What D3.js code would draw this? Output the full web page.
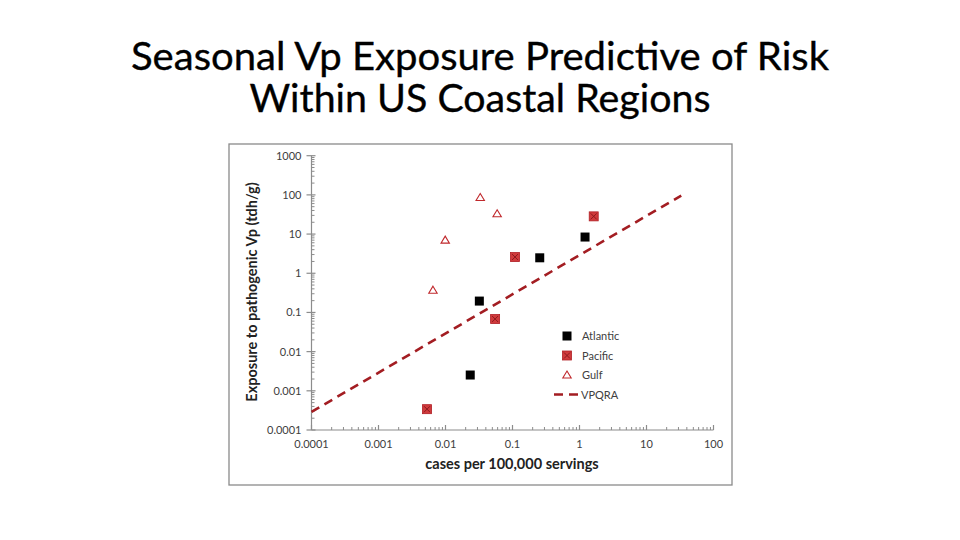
<!DOCTYPE html>
<html><head><meta charset="utf-8">
<script src="https://cdn.jsdelivr.net/npm/d3@7"></script>
<style>body{margin:0;background:#fff;} svg{display:block;}</style>
</head><body>
<svg id="c" width="960" height="540"></svg>
<script>
const titleLines = ["Seasonal Vp Exposure Predictive of Risk", "Within US Coastal Regions"];
const xLabel = "cases per 100,000 servings";
const yLabel = "Exposure to pathogenic Vp (tdh/g)";
const xTicks = [0.0001, 0.001, 0.01, 0.1, 1, 10, 100];
const xTickLabels = ["0.0001", "0.001", "0.01", "0.1", "1", "10", "100"];
const yTicks = [0.0001, 0.001, 0.01, 0.1, 1, 10, 100, 1000];
const yTickLabels = ["0.0001", "0.001", "0.01", "0.1", "1", "10", "100", "1000"];

const atlanticX = [0.0234, 0.032, 0.255, 1.21];
const atlanticY = [0.00253, 0.195, 2.48, 8.4];
const pacificX = [0.0053, 0.055, 0.109, 1.63];
const pacificY = [0.00034, 0.068, 2.59, 28.3];
const gulfX = [0.0065, 0.0099, 0.033, 0.059];
const gulfY = [0.37, 7.0, 86, 33];
const vpqraX = [0.0001, 33];
const vpqraY = [0.00029, 96];
const legendNames = ["Atlantic", "Pacific", "Gulf", "VPQRA"];

const svg = d3.select("#c");
const red = "#c0282c", darkRed = "#a31d22", axisCol = "#8c8c8c";

// title
svg.append("g").selectAll("text").data(titleLines).join("text")
  .attr("x", 480).attr("y", (d, i) => 70 + i * 42)
  .attr("text-anchor", "middle")
  .attr("font-family", "Lato, 'Open Sans', sans-serif")
  .attr("font-size", 39).attr("fill", "#000")
  .attr("stroke", "#000").attr("stroke-width", 0.35)
  .attr("textLength", (d, i) => i === 0 ? 698 : 461)
  .attr("lengthAdjust", "spacingAndGlyphs")
  .text(d => d);

// frame
svg.append("rect").attr("x", 229).attr("y", 144).attr("width", 503).attr("height", 341)
  .attr("fill", "#fff").attr("stroke", "#8a8a8a").attr("stroke-width", 1.3);

const x = d3.scaleLog().domain([0.0001, 100]).range([311.5, 713.5]);
const y = d3.scaleLog().domain([0.0001, 1000]).range([430, 155.7]);

const minorX = [], minorY = [];
for (let e = -4; e < 2; e++) for (let m = 2; m <= 9; m++) minorX.push(m * Math.pow(10, e));
for (let e = -4; e < 3; e++) for (let m = 2; m <= 9; m++) minorY.push(m * Math.pow(10, e));

const fontTick = "Lato, 'Open Sans', sans-serif";
// X axis
const gx = svg.append("g").attr("transform", "translate(0,430)");
gx.append("line").attr("x1", x.range()[0]).attr("x2", x.range()[1]).attr("stroke", axisCol).attr("stroke-width", 1.2);
gx.selectAll(".mn").data(minorX).join("line")
  .attr("x1", d => x(d)).attr("x2", d => x(d)).attr("y1", 0).attr("y2", -3)
  .attr("stroke", axisCol).attr("stroke-width", 1);
gx.selectAll(".mj").data(xTicks).join("line")
  .attr("x1", d => x(d)).attr("x2", d => x(d)).attr("y1", 0).attr("y2", -5)
  .attr("stroke", axisCol).attr("stroke-width", 1.2);
gx.selectAll("text").data(xTicks).join("text")
  .attr("x", d => x(d)).attr("y", 18).attr("text-anchor", "middle")
  .attr("font-family", fontTick).attr("font-size", 11).attr("fill", "#404040")
  .text((d, i) => xTickLabels[i]);

// Y axis
const gy = svg.append("g").attr("transform", "translate(311.5,0)");
gy.append("line").attr("y1", y.range()[0]).attr("y2", y.range()[1]).attr("stroke", axisCol).attr("stroke-width", 1.2);
gy.selectAll(".mn").data(minorY).join("line")
  .attr("y1", d => y(d)).attr("y2", d => y(d)).attr("x1", 0).attr("x2", 3)
  .attr("stroke", axisCol).attr("stroke-width", 1);
gy.selectAll(".mj").data(yTicks).join("line")
  .attr("y1", d => y(d)).attr("y2", d => y(d)).attr("x1", -5).attr("x2", 4)
  .attr("stroke", axisCol).attr("stroke-width", 1.2);
gy.selectAll("text").data(yTicks).join("text")
  .attr("x", -10).attr("y", d => y(d) + 4).attr("text-anchor", "end")
  .attr("font-family", fontTick).attr("font-size", 11).attr("fill", "#404040")
  .text((d, i) => yTickLabels[i]);

// axis titles
svg.append("text").attr("x", 512).attr("y", 469).attr("text-anchor", "middle")
  .attr("font-family", "Lato, 'Open Sans', sans-serif").attr("font-weight", "bold")
  .attr("font-size", 14.5).attr("fill", "#222").text(xLabel);
svg.append("text").attr("transform", "translate(257,292) rotate(-90)").attr("text-anchor", "middle")
  .attr("font-family", "Lato, 'Open Sans', sans-serif").attr("font-weight", "bold")
  .attr("font-size", 14.5).attr("fill", "#222").text(yLabel);

// VPQRA line
const line = d3.line().x(d => x(d[0])).y(d => y(d[1]));
svg.append("path").datum(vpqraX.map((v, i) => [v, vpqraY[i]]))
  .attr("d", line).attr("fill", "none").attr("stroke", darkRed)
  .attr("stroke-width", 2.6).attr("stroke-dasharray", "9,6");

// markers
function square(g, cx, cy, s, fill) {
  g.append("rect").attr("x", cx - s / 2).attr("y", cy - s / 2).attr("width", s).attr("height", s).attr("fill", fill);
}
function pacificMark(g, cx, cy) {
  g.append("rect").attr("x", cx - 4.5).attr("y", cy - 4.5).attr("width", 9).attr("height", 9)
    .attr("fill", "#d03a3c").attr("stroke", "#b01f25").attr("stroke-width", 0.8);
  g.append("path").attr("d", `M${cx-3},${cy-3}L${cx+3},${cy+3}M${cx+3},${cy-3}L${cx-3},${cy+3}`)
    .attr("stroke", "#8c1a1e").attr("stroke-width", 1);
}
function gulfMark(g, cx, cy) {
  g.append("path").attr("d", `M${cx},${cy-4}L${cx+4.2},${cy+3}L${cx-4.2},${cy+3}Z`)
    .attr("fill", "#fff").attr("stroke", red).attr("stroke-width", 1.1);
}
const pts = svg.append("g");
atlanticX.forEach((v, i) => square(pts, x(v), y(atlanticY[i]), 9, "#000"));
pacificX.forEach((v, i) => pacificMark(pts, x(v), y(pacificY[i])));
gulfX.forEach((v, i) => gulfMark(pts, x(v), y(gulfY[i])));

// legend
const lg = svg.append("g");
const ly = [336, 355.5, 375, 394.5];
square(lg, 567, ly[0], 9, "#000");
pacificMark(lg, 567, ly[1]);
gulfMark(lg, 567, ly[2]);
lg.append("line").attr("x1", 554).attr("x2", 580).attr("y1", ly[3]).attr("y2", ly[3])
  .attr("stroke", darkRed).attr("stroke-width", 2.6).attr("stroke-dasharray", "9,6");
lg.selectAll("text").data(legendNames).join("text")
  .attr("x", (d, i) => i === 3 ? 581 : 582).attr("y", (d, i) => ly[i] + 4)
  .attr("font-family", fontTick).attr("font-size", 11).attr("fill", "#404040")
  .text(d => d);
</script>
</body></html>
